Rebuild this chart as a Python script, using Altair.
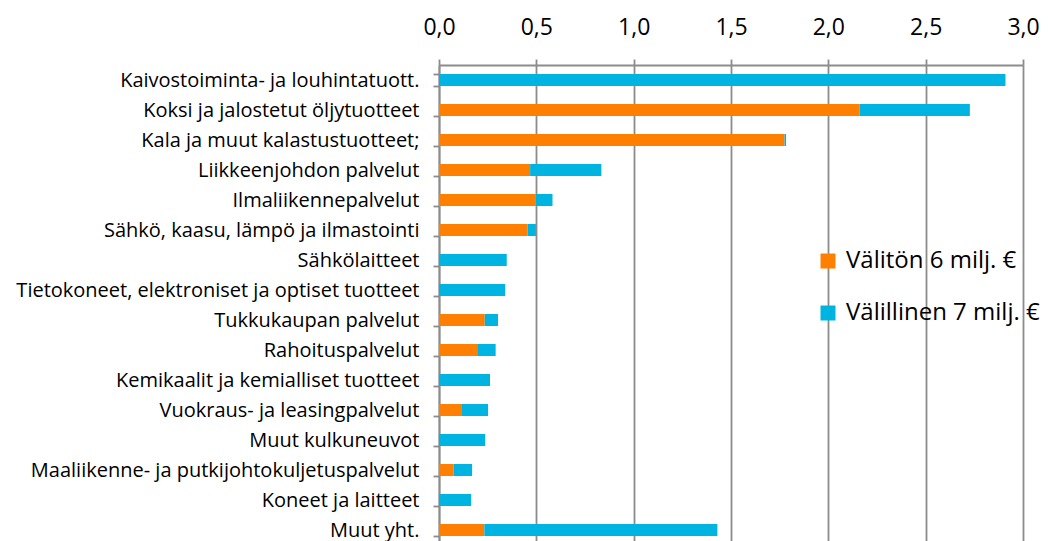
import altair as alt
import pandas as pd

categories = [
    "Kaivostoiminta- ja louhintatuott.",
    "Koksi ja jalostetut öljytuotteet",
    "Kala ja muut kalastustuotteet;",
    "Liikkeenjohdon palvelut",
    "Ilmaliikennepalvelut",
    "Sähkö, kaasu, lämpö ja ilmastointi",
    "Sähkölaitteet",
    "Tietokoneet, elektroniset ja optiset tuotteet",
    "Tukkukaupan palvelut",
    "Rahoituspalvelut",
    "Kemikaalit ja kemialliset tuotteet",
    "Vuokraus- ja leasingpalvelut",
    "Muut kulkuneuvot",
    "Maaliikenne- ja putkijohtokuljetuspalvelut",
    "Koneet ja laitteet",
    "Muut yht.",
]
direct = [0.0, 2.16, 1.775, 0.468, 0.498, 0.455, 0.0, 0.0, 0.235, 0.196, 0.0, 0.114, 0.0, 0.075, 0.0, 0.233]
indirect = [2.91, 0.567, 0.008, 0.366, 0.085, 0.043, 0.348, 0.340, 0.068, 0.095, 0.262, 0.138, 0.237, 0.095, 0.165, 1.197]
series = ["Välitön 6 milj. €", "Välillinen 7 milj. €"]
colors = ["#FF8000", "#00B4E1"]
ticks = [0, 0.5, 1.0, 1.5, 2.0, 2.5, 3.0]

rows = []
for c, d, i in zip(categories, direct, indirect):
    rows.append({"cat": c, "series": series[0], "value": d, "ord": 0})
    rows.append({"cat": c, "series": series[1], "value": i, "ord": 1})
df = pd.DataFrame(rows)

FONT = "Open Sans"
GRAY = "#8c8c8c"

chart = alt.Chart(df).mark_bar().encode(
    y=alt.Y("cat:N", sort=categories, title=None,
            scale=alt.Scale(paddingInner=0.6, paddingOuter=0.3),
            axis=alt.Axis(labelFont=FONT, labelFontSize=20, labelColor="#000000",
                          labelPadding=14, tickBand="extent", tickSize=6,
                          tickColor=GRAY, domainColor=GRAY,
                          domainWidth=1.8, tickWidth=1.8, grid=False, labelLimit=600)),
    x=alt.X("value:Q", stack="zero", title=None,
            scale=alt.Scale(domain=[0, 3], nice=False),
            axis=alt.Axis(orient="top", values=ticks,
                          labelExpr="replace(format(datum.value, '.1f'), '.', ',')",
                          labelFont=FONT, labelFontSize=23, labelColor="#000000",
                          labelPadding=20, labelFlush=False, labelOverlap=False,
                          tickSize=6, tickColor=GRAY,
                          domainColor=GRAY, domainWidth=1.8, tickWidth=1.8,
                          grid=True, gridColor=GRAY, gridWidth=1.8)),
    color=alt.Color("series:N", sort=series,
                    scale=alt.Scale(domain=series, range=colors),
                    legend=alt.Legend(title=None, orient="none", legendX=377, legendY=184,
                                      symbolType="square", symbolSize=225,
                                      symbolStrokeWidth=0, labelFont=FONT,
                                      labelFontSize=24, labelColor="#000000",
                                      labelOffset=6, rowPadding=28, padding=0,
                                      labelLimit=600)),
    order=alt.Order("ord:Q"),
).properties(
    width=584, height=480,
    autosize=alt.AutoSizeParams(type="none"),
    padding={"left": 431, "top": 57, "right": 17, "bottom": -4},
).configure_view(stroke=None).configure(background="white")

chart.save("out.html", embed_options={"renderer": "svg", "actions": False})
